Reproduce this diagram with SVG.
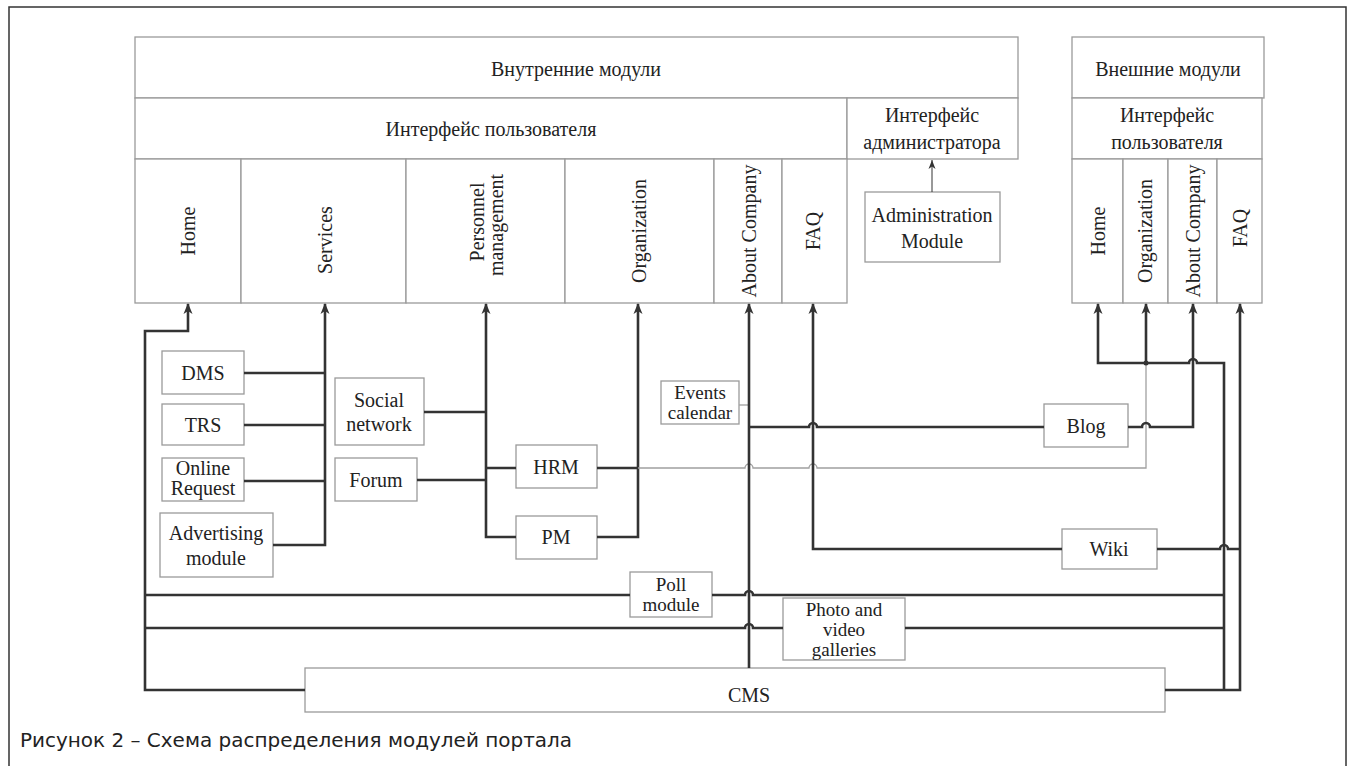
<svg xmlns="http://www.w3.org/2000/svg" width="1352" height="766" viewBox="0 0 1352 766">
  <style>
    .box { fill: #fff; stroke: #9a9a9a; stroke-width: 1.3; }
    .t { font-family: "Liberation Serif", "Times New Roman", serif; font-size: 20px; fill: #222; text-anchor: middle; }
    .s { font-size: 19px; }
    .v { font-family: "Liberation Serif", "Times New Roman", serif; font-size: 20px; fill: #222; text-anchor: middle; dominant-baseline: central; }
    .w { fill: none; stroke: #333; stroke-width: 2.6; stroke-linejoin: miter; }
    .thin { fill: none; stroke: #a0a0a0; stroke-width: 1.3; }
    .cap { font-family: "DejaVu Sans", Verdana, sans-serif; font-size: 19.5px; fill: #222; }
  </style>
  <defs>
    <marker id="arr" markerUnits="userSpaceOnUse" markerWidth="12" markerHeight="10" refX="10" refY="5" orient="auto">
      <path d="M0,0.5 L11,5 L0,9.5 L3,5 z" fill="#333"/>
    </marker>
    <marker id="arrThin" markerUnits="userSpaceOnUse" markerWidth="10" markerHeight="8" refX="9" refY="4" orient="auto">
      <path d="M0,0.5 L9,4 L0,7.5 L2.5,4 z" fill="#333"/>
    </marker>
  </defs>

  <rect width="1352" height="766" fill="#fff"/>
  <!-- page frame -->
  <rect x="9" y="7" width="1337" height="790" fill="none" stroke="#333" stroke-width="1.5"/>

  <!-- internal modules block -->
  <g id="internal-modules">
    <rect class="box" x="135" y="37" width="883" height="61"/>
    <text class="t" x="576" y="76">Внутренние модули</text>
    <rect class="box" x="135" y="98" width="712" height="61"/>
    <text class="t" x="491" y="136">Интерфейс пользователя</text>
  </g>
  <g id="admin-interface">
    <rect class="box" x="847" y="98" width="171" height="61"/>
    <text class="t" x="932" y="122">Интерфейс</text>
    <text class="t" x="932" y="149">администратора</text>
  </g>
  <g id="int-home">
    <rect class="box" x="135" y="159" width="106" height="144"/>
    <text class="v" transform="translate(188 231) rotate(-90)">Home</text>
  </g>
  <g id="int-services">
    <rect class="box" x="241" y="159" width="165" height="144"/>
    <text class="v" transform="translate(325 240) rotate(-90)">Services</text>
  </g>
  <g id="int-personnel">
    <rect class="box" x="406" y="159" width="159" height="144"/>
    <text class="v" transform="translate(477 222) rotate(-90)">Personnel</text>
    <text class="v" transform="translate(496 225) rotate(-90)">management</text>
  </g>
  <g id="int-organization">
    <rect class="box" x="565" y="159" width="149" height="144"/>
    <text class="v" transform="translate(639 231) rotate(-90)">Organization</text>
  </g>
  <g id="int-about">
    <rect class="box" x="714" y="159" width="68" height="144"/>
    <text class="v" transform="translate(749 231) rotate(-90)">About Company</text>
  </g>
  <g id="int-faq">
    <rect class="box" x="782" y="159" width="65" height="144"/>
    <text class="v" transform="translate(813 231) rotate(-90)">FAQ</text>
  </g>
  <g id="admin-module">
    <rect class="box" x="865" y="192" width="135" height="70"/>
    <text class="t" x="932" y="222">Administration</text>
    <text class="t" x="932" y="248">Module</text>
  </g>

  <!-- external modules block -->
  <g id="external-modules">
    <rect class="box" x="1072" y="37" width="192" height="61"/>
    <text class="t" x="1168" y="76">Внешние модули</text>
    <rect class="box" x="1072" y="98" width="190" height="61"/>
    <text class="t" x="1167" y="122">Интерфейс</text>
    <text class="t" x="1167" y="149">пользователя</text>
  </g>
  <g id="ext-home">
    <rect class="box" x="1072" y="159" width="51" height="144"/>
    <text class="v" transform="translate(1098 231) rotate(-90)">Home</text>
  </g>
  <g id="ext-organization">
    <rect class="box" x="1123" y="159" width="45" height="144"/>
    <text class="v" transform="translate(1145 231) rotate(-90)">Organization</text>
  </g>
  <g id="ext-about">
    <rect class="box" x="1168" y="159" width="49" height="144"/>
    <text class="v" transform="translate(1193 231) rotate(-90)">About Company</text>
  </g>
  <g id="ext-faq">
    <rect class="box" x="1217" y="159" width="45" height="144"/>
    <text class="v" transform="translate(1240 228) rotate(-90)">FAQ</text>
  </g>

  <!-- module boxes -->
  <g id="dms"><rect class="box" x="162" y="351" width="82" height="43"/><text class="t" x="203" y="380">DMS</text></g>
  <g id="trs"><rect class="box" x="162" y="404" width="82" height="41"/><text class="t" x="203" y="432">TRS</text></g>
  <g id="online-request"><rect class="box" x="162" y="458" width="82" height="43"/><text class="t" x="203" y="475">Online</text><text class="t" x="203" y="495">Request</text></g>
  <g id="advertising"><rect class="box" x="160" y="513" width="113" height="64"/><text class="t" x="216" y="540">Advertising</text><text class="t" x="216" y="565">module</text></g>
  <g id="social-network"><rect class="box" x="335" y="378" width="89" height="67"/><text class="t" x="379" y="407">Social</text><text class="t" x="379" y="431">network</text></g>
  <g id="forum"><rect class="box" x="335" y="458" width="82" height="43"/><text class="t" x="376" y="487">Forum</text></g>
  <g id="hrm"><rect class="box" x="516" y="445" width="81" height="43"/><text class="t" x="556" y="474">HRM</text></g>
  <g id="pm"><rect class="box" x="516" y="516" width="81" height="43"/><text class="t" x="556" y="544">PM</text></g>
  <g id="events-calendar"><rect class="box" x="661" y="381" width="78" height="43"/><text class="t s" x="700" y="399">Events</text><text class="t s" x="700" y="419">calendar</text></g>
  <g id="blog"><rect class="box" x="1044" y="404" width="84" height="43"/><text class="t" x="1086" y="433">Blog</text></g>
  <g id="wiki"><rect class="box" x="1062" y="529" width="95" height="40"/><text class="t" x="1109" y="556">Wiki</text></g>
  <g id="poll-module"><rect class="box" x="630" y="572" width="82" height="45"/><text class="t s" x="671" y="591">Poll</text><text class="t s" x="671" y="611">module</text></g>
  <g id="photo-video"><rect class="box" x="783" y="598" width="122" height="62"/><text class="t s" x="844" y="616">Photo and</text><text class="t s" x="844" y="636">video</text><text class="t s" x="844" y="656">galleries</text></g>
  <g id="cms"><rect class="box" x="305" y="668" width="860" height="44"/><text class="t" x="749" y="702">CMS</text></g>

  <text class="cap" x="20" y="747" textLength="552" lengthAdjust="spacingAndGlyphs">Рисунок 2 – Схема распределения модулей портала</text>

  <!-- connectors -->
  <g id="connectors">
    <!-- admin module to admin interface -->
    <line x1="932" y1="192" x2="932" y2="160" stroke="#333" stroke-width="1" marker-end="url(#arrThin)"/>

    <!-- CMS to Home (internal) -->
    <path class="w" d="M305,690 H145 V331 H188 V304" marker-end="url(#arr)"/>
    <!-- services bus -->
    <path class="w" d="M273,545 H325 V304" marker-end="url(#arr)"/>
    <path class="w" d="M244,373 H325 M244,425 H325 M244,481 H325"/>
    <!-- personnel bus -->
    <path class="w" d="M516,537 H486 V304" marker-end="url(#arr)"/>
    <path class="w" d="M424,412 H486 M417,480 H486 M486,468 H516"/>
    <!-- organization bus -->
    <path class="w" d="M597,537 H638 V304" marker-end="url(#arr)"/>
    <path class="w" d="M597,468 H638"/>
    <!-- HRM to external organization (thin) -->
    <path class="thin" d="M638,468 H745 A4,4 0 0 1 753,468 H809 A4,4 0 0 1 817,468 H1146 V363"/>
    <!-- events calendar to about company (thin) -->
    <path class="thin" d="M739,405 H749"/>
    <!-- CMS to about company (internal) -->
    <path class="w" d="M749,668 V304" marker-end="url(#arr)"/>
    <!-- blog -->
    <path class="w" d="M749,427 H809 A4,4 0 0 1 817,427 H1044"/>
    <path class="w" d="M1128,427 H1142 A4,4 0 0 1 1150,427 H1193 V304" marker-end="url(#arr)"/>
    <!-- wiki to FAQ internal -->
    <path class="w" d="M1062,549 H813 V304" marker-end="url(#arr)"/>
    <!-- wiki to FAQ external -->
    <path class="w" d="M1157,549 H1220 A4,4 0 0 1 1228,549 H1240"/>
    <!-- external home / organization bus -->
    <path class="w" d="M1224,690 V363 H1197 A4,4 0 0 0 1189,363 H1098 V304" marker-end="url(#arr)"/>
    <path class="w" d="M1146,363 V304" marker-end="url(#arr)"/>
    <circle cx="1146" cy="363" r="2.5" fill="#333"/>
    <!-- external FAQ -->
    <path class="w" d="M1165,690 H1240 V304" marker-end="url(#arr)"/>
    <!-- poll module line -->
    <path class="w" d="M145,595 H630 M712,595 H745 A4,4 0 0 1 753,595 H1224"/>
    <!-- photo and video galleries line -->
    <path class="w" d="M145,628 H745 A4,4 0 0 1 753,628 H783 M905,628 H1224"/>
  </g>
</svg>
